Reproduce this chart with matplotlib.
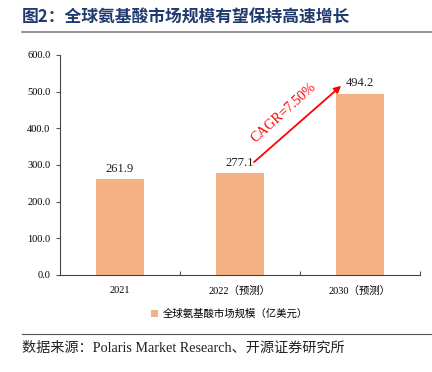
import matplotlib
matplotlib.use("Agg")
import matplotlib.pyplot as plt

plt.rcParams['font.family'] = ['Liberation Serif', 'Noto Sans CJK SC']

categories = ['2021', '2022（预测）', '2030（预测）']
values = [261.9, 277.1, 494.2]
series_name = '全球氨基酸市场规模（亿美元）'
title = '图2：全球氨基酸市场规模有望保持高速增长'
source = '数据来源：Polaris Market Research、开源证券研究所'
cagr_text = 'CAGR=7.50%'
yticks = [0, 100, 200, 300, 400, 500, 600]

fig = plt.figure(figsize=(4.32, 3.72), dpi=100)
ax = fig.add_axes([60/432, 1-275/372, 360/432, 220/372])

x = range(len(categories))
ax.bar(x, values, width=0.4, color='#F4B183', label=series_name, zorder=2)
for xi, v in zip(x, values):
    ax.text(xi, v + 12, f'{v:.1f}', ha='center', va='bottom', fontsize=9, color='#222222')

ax.set_xlim(-0.5, 2.5)
ax.set_ylim(0, 600)
ax.set_yticks(yticks)
ax.set_yticklabels([f'{t:.1f}' for t in yticks], fontsize=7.5)
ax.set_xticks([0.5, 1.5, 2.5])
ax.set_xticklabels([])
ax.set_xticks(list(x), minor=True)
ax.set_xticklabels(categories, minor=True, fontsize=7.5)
ax.tick_params(axis='x', which='minor', length=0, pad=8)
ax.tick_params(axis='x', which='major', length=3, direction='in', color='#555555')
ax.tick_params(axis='y', length=3, direction='out', color='#555555', pad=4)
for s in ['top', 'right']:
    ax.spines[s].set_visible(False)
for s in ['left', 'bottom']:
    ax.spines[s].set_color('#444444')
    ax.spines[s].set_linewidth(0.8)

# CAGR arrow from 2022 label to 2030 label
ax.annotate('', xy=(1.86, 521), xytext=(1.1, 303),
            arrowprops=dict(arrowstyle='-|>', color='red', lw=1.3, mutation_scale=10))
ax.text(1.36, 442, cagr_text, color='red', fontsize=10, rotation=42,
        ha='center', va='center')

ax.legend(loc='upper center', bbox_to_anchor=(0.47, -0.11), frameon=False,
          handlelength=0.7, handleheight=0.7, handletextpad=0.4,
          prop={'family': ['Noto Sans CJK SC'], 'size': 7.5})

fig.text(22/432, 1-18/372, title, fontsize=12.1, fontweight='bold', color='#1F3A6E',
         va='center', ha='left', family=['Noto Sans CJK SC'])
fig.add_artist(plt.Line2D([22/432, 1], [1-32/372, 1-32/372], color='#808080', lw=1.2))
fig.add_artist(plt.Line2D([22/432, 1], [1-334/372, 1-334/372], color='#555555', lw=0.8))
fig.text(22/432, 1-348/372, source, fontsize=10.2, va='center', ha='left', color='#222222')

fig.savefig('out.png', dpi=100)
